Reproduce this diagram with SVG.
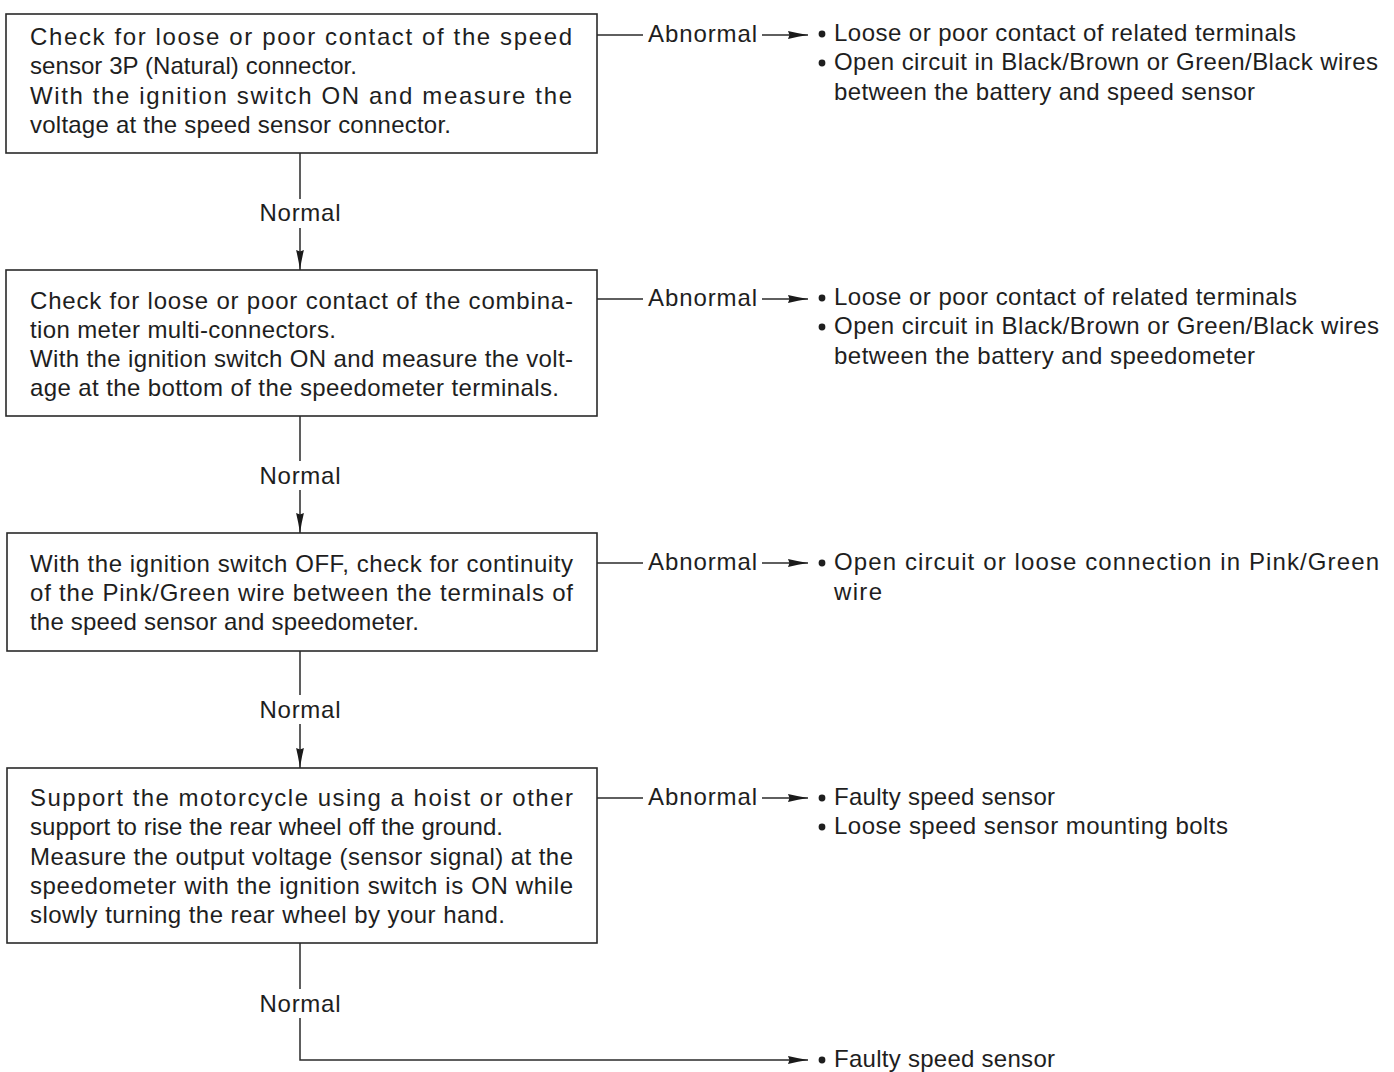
<svg xmlns="http://www.w3.org/2000/svg" width="1394" height="1072" viewBox="0 0 1394 1072">
  <defs>
    <marker id="arrow" markerUnits="userSpaceOnUse" markerWidth="22" markerHeight="10" refX="20" refY="4.5" orient="auto">
      <path d="M0,0.6 Q10,3 20,4.5 Q10,6 0,8.4 L1.5,4.5 z" fill="#1a1a1a"/>
    </marker>
    <style>
      .box { fill: none; stroke: #2a2a2a; stroke-width: 1.6; }
      .t { font-family: "Liberation Sans", Arial, sans-serif; font-size: 24px; fill: #1e1e1e; }
      .lbl { font-family: "Liberation Sans", Arial, sans-serif; font-size: 24px; fill: #1e1e1e; text-anchor: middle; }
      .ln { fill: none; stroke: #2a2a2a; stroke-width: 1.5; }
      .arr { fill: none; stroke: #2a2a2a; stroke-width: 1.5; marker-end: url(#arrow); }
      .dot { fill: #1e1e1e; }
    </style>
  </defs>
  <rect width="1394" height="1072" fill="#ffffff"/>

  <!-- step 1 -->
  <g id="step1">
    <rect class="box" x="6" y="14" width="591" height="139"/>
    <text class="t" x="30" y="45" textLength="542" lengthAdjust="spacing">Check for loose or poor contact of the speed</text>
    <text class="t" x="30" y="74" textLength="327" lengthAdjust="spacing">sensor 3P (Natural) connector.</text>
    <text class="t" x="30" y="104" textLength="542" lengthAdjust="spacing">With the ignition switch ON and measure the</text>
    <text class="t" x="30" y="133" textLength="421" lengthAdjust="spacing">voltage at the speed sensor connector.</text>
  </g>

  <!-- step 2 -->
  <g id="step2">
    <rect class="box" x="6" y="270" width="591" height="146"/>
    <text class="t" x="30" y="309" textLength="543" lengthAdjust="spacing">Check for loose or poor contact of the combina-</text>
    <text class="t" x="30" y="338" textLength="306" lengthAdjust="spacing">tion meter multi-connectors.</text>
    <text class="t" x="30" y="367" textLength="543" lengthAdjust="spacing">With the ignition switch ON and measure the volt-</text>
    <text class="t" x="30" y="396" textLength="529" lengthAdjust="spacing">age at the bottom of the speedometer terminals.</text>
  </g>

  <!-- step 3 -->
  <g id="step3">
    <rect class="box" x="7" y="533" width="590" height="118"/>
    <text class="t" x="30" y="572" textLength="543" lengthAdjust="spacing">With the ignition switch OFF, check for continuity</text>
    <text class="t" x="30" y="601" textLength="543" lengthAdjust="spacing">of the Pink/Green wire between the terminals of</text>
    <text class="t" x="30" y="630" textLength="389" lengthAdjust="spacing">the speed sensor and speedometer.</text>
  </g>

  <!-- step 4 -->
  <g id="step4">
    <rect class="box" x="7" y="768" width="590" height="175"/>
    <text class="t" x="30" y="806" textLength="543" lengthAdjust="spacing">Support the motorcycle using a hoist or other</text>
    <text class="t" x="30" y="835" textLength="473" lengthAdjust="spacing">support to rise the rear wheel off the ground.</text>
    <text class="t" x="30" y="865" textLength="543" lengthAdjust="spacing">Measure the output voltage (sensor signal) at the</text>
    <text class="t" x="30" y="894" textLength="543" lengthAdjust="spacing">speedometer with the ignition switch is ON while</text>
    <text class="t" x="30" y="923" textLength="475" lengthAdjust="spacing">slowly turning the rear wheel by your hand.</text>
  </g>

  <!-- outcomes for each step -->
  <g id="result1">
    <circle class="dot" cx="822" cy="34" r="3.4"/>
    <text class="t" x="834" y="41" textLength="462" lengthAdjust="spacing">Loose or poor contact of related terminals</text>
    <circle class="dot" cx="822" cy="63" r="3.4"/>
    <text class="t" x="834" y="70" textLength="544" lengthAdjust="spacing">Open circuit in Black/Brown or Green/Black wires</text>
    <text class="t" x="834" y="100" textLength="421" lengthAdjust="spacing">between the battery and speed sensor</text>
  </g>
  <g id="result2">
    <circle class="dot" cx="822" cy="298" r="3.4"/>
    <text class="t" x="834" y="305" textLength="463" lengthAdjust="spacing">Loose or poor contact of related terminals</text>
    <circle class="dot" cx="822" cy="327" r="3.4"/>
    <text class="t" x="834" y="334" textLength="545" lengthAdjust="spacing">Open circuit in Black/Brown or Green/Black wires</text>
    <text class="t" x="834" y="364" textLength="421" lengthAdjust="spacing">between the battery and speedometer</text>
  </g>
  <g id="result3">
    <circle class="dot" cx="822" cy="563" r="3.4"/>
    <text class="t" x="834" y="570" textLength="545" lengthAdjust="spacing">Open circuit or loose connection in Pink/Green</text>
    <text class="t" x="834" y="600" textLength="48" lengthAdjust="spacing">wire</text>
  </g>
  <g id="result4">
    <circle class="dot" cx="822" cy="798" r="3.4"/>
    <text class="t" x="834" y="805" textLength="221" lengthAdjust="spacing">Faulty speed sensor</text>
    <circle class="dot" cx="822" cy="827" r="3.4"/>
    <text class="t" x="834" y="834" textLength="394" lengthAdjust="spacing">Loose speed sensor mounting bolts</text>
  </g>
  <g id="result5">
    <circle class="dot" cx="822" cy="1060" r="3.4"/>
    <text class="t" x="834" y="1067" textLength="221" lengthAdjust="spacing">Faulty speed sensor</text>
  </g>

  <!-- connectors -->
  <g id="connectors">
    <!-- Normal path down the left column -->
    <line class="ln" x1="300" y1="153" x2="300" y2="199"/>
    <line class="arr" x1="300" y1="228" x2="300" y2="270"/>
    <text class="lbl" x="300" y="221" textLength="81" lengthAdjust="spacing">Normal</text>

    <line class="ln" x1="300" y1="416" x2="300" y2="461"/>
    <line class="arr" x1="300" y1="490" x2="300" y2="533"/>
    <text class="lbl" x="300" y="484" textLength="81" lengthAdjust="spacing">Normal</text>

    <line class="ln" x1="300" y1="651" x2="300" y2="695"/>
    <line class="arr" x1="300" y1="724" x2="300" y2="768"/>
    <text class="lbl" x="300" y="718" textLength="81" lengthAdjust="spacing">Normal</text>

    <line class="ln" x1="300" y1="943" x2="300" y2="989"/>
    <text class="lbl" x="300" y="1012" textLength="81" lengthAdjust="spacing">Normal</text>
    <path class="arr" d="M300,1018 L300,1060 L808,1060"/>

    <!-- Abnormal branches to the right -->
    <line class="ln" x1="597" y1="35" x2="643" y2="35"/>
    <text class="t" x="648" y="42" textLength="109" lengthAdjust="spacing">Abnormal</text>
    <line class="arr" x1="762" y1="35" x2="808" y2="35"/>

    <line class="ln" x1="597" y1="299" x2="643" y2="299"/>
    <text class="t" x="648" y="306" textLength="109" lengthAdjust="spacing">Abnormal</text>
    <line class="arr" x1="762" y1="299" x2="808" y2="299"/>

    <line class="ln" x1="597" y1="563" x2="643" y2="563"/>
    <text class="t" x="648" y="570" textLength="109" lengthAdjust="spacing">Abnormal</text>
    <line class="arr" x1="762" y1="563" x2="808" y2="563"/>

    <line class="ln" x1="597" y1="798" x2="643" y2="798"/>
    <text class="t" x="648" y="805" textLength="109" lengthAdjust="spacing">Abnormal</text>
    <line class="arr" x1="762" y1="798" x2="808" y2="798"/>
  </g>
</svg>
